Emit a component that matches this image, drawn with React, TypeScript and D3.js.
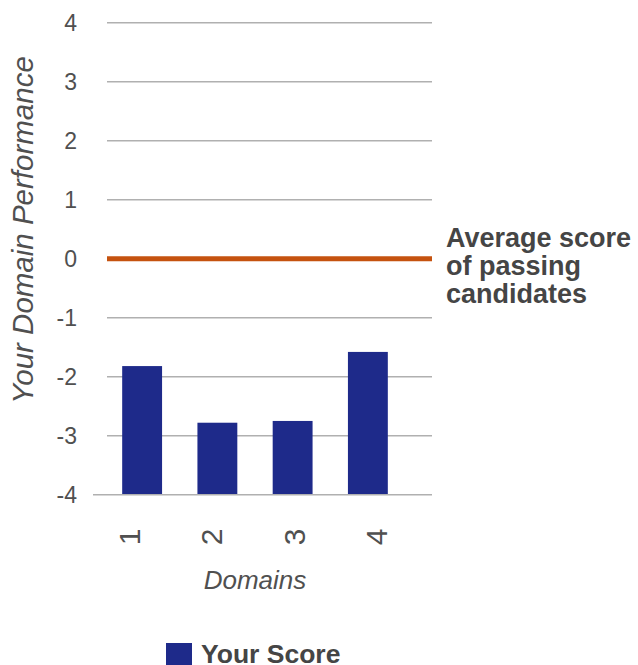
import React, { useEffect, useRef } from 'react';
import * as d3 from 'd3';

// chart data
const domains = ['1', '2', '3', '4'];
const yourScore = [-1.82, -2.78, -2.75, -1.58];
const yTicks = [4, 3, 2, 1, 0, -1, -2, -3, -4];
const averageScore = 0;
const averageLabel = ['Average score', 'of passing', 'candidates'];
const legendLabel = 'Your Score';

const W = 638;
const H = 665;
const FONT = '"Liberation Sans", Arial, sans-serif';

export default function App() {
  const svgRef = useRef<SVGSVGElement | null>(null);

  useEffect(() => {
    if (!svgRef.current) return;
    const svg = d3.select(svgRef.current);
    svg.selectAll('*').remove();

    const plotLeft = 107;
    const plotRight = 432;

    const y = d3.scaleLinear().domain([-4, 4]).range([494.7, 22.7]);
    const xBar = d3.scaleBand().domain(domains).range([104.5, 405.5]).paddingInner(0.47).paddingOuter(0.235);
    const xLabel = d3.scalePoint().domain(domains).range([129.5, 376.5]);

    // gridlines
    svg.append('g')
      .selectAll('line')
      .data(yTicks.filter((t) => t !== -4))
      .join('line')
      .attr('x1', plotLeft)
      .attr('x2', plotRight)
      .attr('y1', (d) => y(d))
      .attr('y2', (d) => y(d))
      .attr('stroke', '#b0b0b0')
      .attr('stroke-width', 1.6);

    // y tick labels
    svg.append('g')
      .selectAll('text')
      .data(yTicks)
      .join('text')
      .attr('x', 77)
      .attr('y', (d) => y(d))
      .attr('text-anchor', 'end')
      .attr('dominant-baseline', 'central')
      .attr('font-family', FONT)
      .attr('font-size', 23)
      .attr('fill', '#505050')
      .text((d) => String(d));

    // bars (axis crosses at -4)
    svg.append('g')
      .selectAll('rect')
      .data(domains.map((d, i) => ({ d, v: yourScore[i] })))
      .join('rect')
      .attr('x', (r) => xBar(r.d) as number)
      .attr('width', xBar.bandwidth())
      .attr('y', (r) => y(r.v))
      .attr('height', (r) => y(-4) - y(r.v))
      .attr('fill', '#1e2a8a');

    // category axis line
    svg.append('line')
      .attr('x1', 93)
      .attr('x2', plotRight)
      .attr('y1', y(-4))
      .attr('y2', y(-4))
      .attr('stroke', '#b0b0b0')
      .attr('stroke-width', 1.6);

    // average line
    svg.append('line')
      .attr('x1', plotLeft)
      .attr('x2', plotRight)
      .attr('y1', y(averageScore))
      .attr('y2', y(averageScore))
      .attr('stroke', '#c5520f')
      .attr('stroke-width', 5);

    // x tick labels, rotated
    svg.append('g')
      .selectAll('text')
      .data(domains)
      .join('text')
      .attr('transform', (d) => 'translate(' + xLabel(d) + ',537) rotate(-90)')
      .attr('text-anchor', 'middle')
      .attr('dominant-baseline', 'central')
      .attr('font-family', FONT)
      .attr('font-size', 30)
      .attr('fill', '#505050')
      .text((d) => d);

    // axis titles
    svg.append('text')
      .attr('x', 255)
      .attr('y', 589)
      .attr('text-anchor', 'middle')
      .attr('font-family', FONT)
      .attr('font-style', 'italic')
      .attr('font-size', 26)
      .attr('fill', '#505050')
      .text('Domains');

    svg.append('text')
      .attr('transform', 'translate(33,230) rotate(-90)')
      .attr('text-anchor', 'middle')
      .attr('font-family', FONT)
      .attr('font-style', 'italic')
      .attr('font-size', 29.5)
      .attr('fill', '#505050')
      .text('Your Domain Performance');

    // average label
    svg.append('g')
      .selectAll('text')
      .data(averageLabel)
      .join('text')
      .attr('x', 446)
      .attr('y', (d, i) => 247 + i * 28)
      .attr('font-family', FONT)
      .attr('font-weight', 'bold')
      .attr('font-size', 27)
      .attr('fill', '#454545')
      .text((d) => d);

    // legend
    svg.append('rect')
      .attr('x', 166)
      .attr('y', 643)
      .attr('width', 26)
      .attr('height', 26)
      .attr('fill', '#1e2a8a');
    svg.append('text')
      .attr('x', 201)
      .attr('y', 663)
      .attr('font-family', FONT)
      .attr('font-weight', 'bold')
      .attr('font-size', 26.5)
      .attr('fill', '#454545')
      .text(legendLabel);
  }, []);

  return (
    <svg
      ref={svgRef}
      width={W}
      height={H}
      style={{ position: 'absolute', left: 0, top: 0, display: 'block', background: '#fff' }}
    />
  );
}
